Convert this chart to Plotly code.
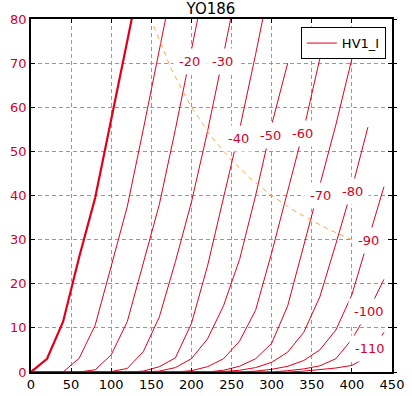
import plotly.graph_objects as go

# Plate voltage grid (V)
vp = [0, 20, 40, 60, 80, 100, 120, 140, 160, 180, 200, 220,
      240, 260, 280, 300, 320, 340, 360, 380, 400, 420, 440]

N = None
# Plate current (mA) for each grid voltage
ip_g0 = [0, 3, 11.4, 26, 39.5, 57, 75, 93, N, N, N, N, N, N, N, N, N, N, N, N, N, N, N]
ip_g10 = [0, 0, 0, 3.1, 10.6, 24, 37.5, 55, 73, 91, N, N, N, N, N, N, N, N, N, N, N, N, N]
ip_g20 = [0, 0, 0, 0, 0.5, 3.9, 11.4, 24.5, 38, 55, 73, 91, N, N, N, N, N, N, N, N, N, N, N]
ip_g30 = [0, 0, 0, 0, 0, 0.1, 0.8, 4.6, 12.5, 25, 38.5, 54.5, 72, 90, N, N, N, N, N, N, N, N, N]
ip_g40 = [0, 0, 0, 0, 0, 0, 0, 0.2, 1.2, 3.2, 11, 24, 39.5, 55, 72, 90, N, N, N, N, N, N, N]
ip_g50 = [0, 0, 0, 0, 0, 0, 0, 0, 0.2, 1, 3, 7.5, 15, 25.5, 40, 56, 70, N, N, N, N, N, N]
ip_g60 = [0, 0, 0, 0, 0, 0, 0, 0, 0, 0, 0.3, 1.2, 3, 7, 14, 27, 41, 55, 71, N, N, N, N]
ip_g70 = [0, 0, 0, 0, 0, 0, 0, 0, 0, 0, 0, 0, 0.4, 1.3, 3, 6.5, 15, 28.5, 42, 56, 71, N, N]
ip_g80 = [0, 0, 0, 0, 0, 0, 0, 0, 0, 0, 0, 0, 0.1, 0.4, 1, 2.2, 4.5, 9, 17, 29, 41.5, 55.5, N]
ip_g90 = [0, 0, 0, 0, 0, 0, 0, 0, 0, 0, 0, 0, 0, 0, 0.2, 0.6, 1.3, 2.6, 5, 9.5, 17.5, 29.5, 42]
ip_g100 = [0, 0, 0, 0, 0, 0, 0, 0, 0, 0, 0, 0, 0, 0, 0, 0, 0.3, 0.7, 1.4, 3, 7.4, 13.6, 21]
ip_g110 = [0, 0, 0, 0, 0, 0, 0, 0, 0, 0, 0, 0, 0, 0, 0, 0, 0, 0.2, 0.5, 0.9, 1.5, 3.5, 9]

curves = [ip_g0, ip_g10, ip_g20, ip_g30, ip_g40, ip_g50, ip_g60,
          ip_g70, ip_g80, ip_g90, ip_g100, ip_g110]

# Max plate dissipation curve (dashed)
pd_v = [153, 175, 200, 225, 250, 275, 300, 325, 350, 375, 400, 428]
pd_i = [78.4, 68.6, 60, 53.3, 48, 43.6, 40, 36.9, 34.3, 32, 30, 28.0]

# Contour-style labels (text, Vp, Ip)
label_text = ["-20", "-30", "-40", "-50", "-60", "-70", "-80", "-90", "-100", "-110"]
label_v = [197.5, 238.8, 258.8, 298.8, 338.8, 361.3, 401.3, 421.3, 421.3, 422.5]
label_i = [70.3, 70.3, 53.0, 53.5, 54.0, 40.0, 40.8, 29.7, 13.6, 5.4]

x_ticks = [0, 50, 100, 150, 200, 250, 300, 350, 400, 450]
y_ticks = [0, 10, 20, 30, 40, 50, 60, 70, 80]

RED = "#e0001a"
LBL = "#d4002a"

fig = go.Figure()

# dissipation curve drawn on the (identical) right-hand axis
fig.add_trace(go.Scatter(x=pd_v, y=pd_i, mode="lines", yaxis="y2",
                         line=dict(color="#ffa94d", width=1, dash="5px,4px"),
                         showlegend=False, hoverinfo="skip"))

for k, ip in enumerate(curves):
    fig.add_trace(go.Scatter(
        x=vp, y=ip, mode="lines",
        line=dict(color=RED, width=2.2 if k == 0 else 1),
        name="HV1_I", showlegend=(k == 1), connectgaps=False,
        hoverinfo="skip"))

for t, xv, yv in zip(label_text, label_v, label_i):
    fig.add_annotation(x=xv, y=yv, text=t, showarrow=False,
                       font=dict(family="DejaVu Sans", size=13, color=LBL),
                       bgcolor="white", borderpad=5)

axis_common = dict(showline=True, linecolor="black", linewidth=1.5, mirror="ticks",
                   showgrid=True, gridcolor="#999999", gridwidth=1, griddash="4px,3px",
                   zeroline=False, ticks="inside", ticklen=4, tickcolor="black",
                   automargin=False)

fig.update_xaxes(range=[0, 450], tickvals=x_ticks,
                 tickfont=dict(family="DejaVu Sans", size=13, color="black"),
                 **axis_common)
fig.update_layout(
    yaxis=dict(range=[0, 80], tickvals=y_ticks,
               tickfont=dict(family="DejaVu Sans", size=13, color=LBL),
               **axis_common),
    yaxis2=dict(range=[0, 80], tickvals=y_ticks, overlaying="y", side="right",
                showticklabels=False, showgrid=False, zeroline=False,
                ticks="outside", ticklen=4, tickcolor="black", showline=False,
                automargin=False),
)

fig.update_layout(
    width=412, height=396,
    margin=dict(l=31, r=20, t=19, b=24),
    paper_bgcolor="white", plot_bgcolor="white",
    title=dict(text="YO186", x=0.512, xanchor="center", y=0.979, yanchor="middle",
               font=dict(family="DejaVu Sans", size=15, color="black")),
    legend=dict(x=0.983, y=0.977, xanchor="right", yanchor="top",
                bordercolor="black", borderwidth=1, bgcolor="white",
                font=dict(family="DejaVu Sans", size=13, color="black")),
)

fig.write_html("out.html", config={"displayModeBar": False},
               post_script="document.body.style.margin='0';document.body.style.overflow='hidden';")
